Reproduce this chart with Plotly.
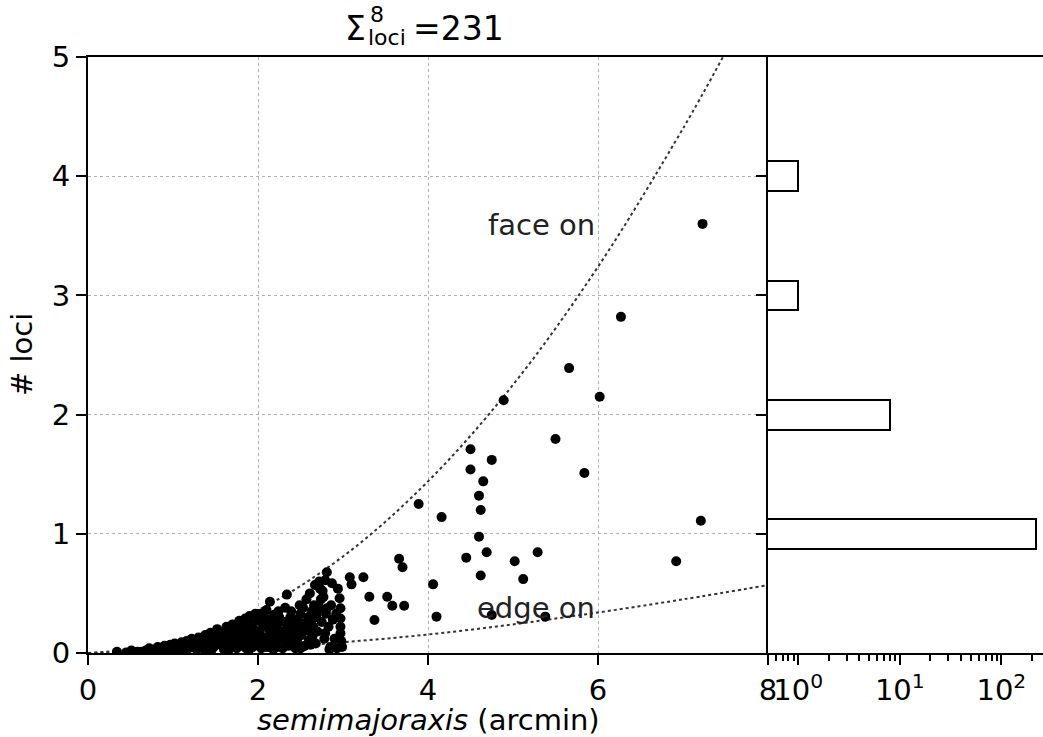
import plotly.graph_objects as go

# ---------------- data ----------------
# isolated / sparse galaxies
sparse_x = [7.23, 6.27, 5.66, 4.89, 6.02, 5.50, 5.84, 4.50, 4.75, 4.50, 4.65, 4.60, 4.62,
            3.89, 4.16, 7.21, 4.60, 4.69, 4.45, 5.29, 5.02, 6.92, 4.62, 5.12, 3.66, 3.70,
            4.06, 4.10, 4.75, 5.38, 3.08, 3.10, 3.24, 3.31, 3.52, 3.58, 3.72, 3.37]
sparse_y = [3.60, 2.82, 2.39, 2.12, 2.15, 1.795, 1.51, 1.71, 1.62, 1.54, 1.44, 1.32, 1.20,
            1.25, 1.14, 1.11, 0.976, 0.845, 0.80, 0.845, 0.77, 0.77, 0.65, 0.62, 0.79, 0.72,
            0.576, 0.305, 0.319, 0.305, 0.635, 0.576, 0.635, 0.472, 0.472, 0.397, 0.397, 0.277]

# dense cluster of small galaxies
dense_x = [0.34, 0.51, 0.45,
           0.68, 0.72, 0.77, 0.63,
           0.82, 0.86, 0.90, 0.93, 0.97, 0.95,
           1.02, 1.05, 1.08, 1.10, 1.13, 1.16, 1.18, 1.20,
           1.22, 1.25, 1.27, 1.30, 1.32, 1.35, 1.37, 1.38, 1.40,
           1.42, 1.44, 1.46, 1.48, 1.50, 1.52, 1.54, 1.56, 1.58, 1.60,
           1.62, 1.63, 1.65, 1.67, 1.69, 1.70, 1.72, 1.74, 1.76, 1.78, 1.79, 1.80,
           1.82, 1.84, 1.85, 1.87, 1.88, 1.90, 1.92, 1.93, 1.95, 1.97, 1.98, 2.00,
           2.02, 2.03, 2.05, 2.06, 2.08, 2.10, 2.11, 2.13, 2.14, 2.16, 2.17, 2.19, 2.20,
           2.22, 2.23, 2.25, 2.26, 2.28, 2.30, 2.32, 2.33, 2.34, 2.35, 2.37, 2.38, 2.40,
           2.42, 2.43, 2.45, 2.46, 2.48, 2.50, 2.51, 2.53, 2.54, 2.55, 2.57, 2.58, 2.59, 2.60,
           2.61, 2.62, 2.63, 2.64, 2.65, 2.65, 2.66, 2.67, 2.68, 2.70, 2.72, 2.73, 2.73, 2.75,
           2.77, 2.78, 2.79, 2.79, 2.80,
           2.81, 2.81, 2.83, 2.85, 2.87, 2.88, 2.90, 2.94, 2.96, 2.97, 2.97, 2.97, 2.97, 2.98, 2.99,
           1.12, 1.28, 1.43, 1.57, 1.66, 1.75, 1.86, 1.94, 2.04, 2.12, 2.21, 2.29, 2.36, 2.44,
           2.52, 2.56, 1.34, 1.47, 1.61, 1.71, 1.83, 1.91, 2.07, 2.15, 2.24, 2.31, 2.39, 2.47,
           2.49, 2.62, 1.24, 1.53, 1.77, 1.99, 2.09, 2.27, 2.41, 2.69, 2.74, 2.86, 2.92, 2.76,
           1.03, 0.88, 0.79, 0.58, 1.15, 1.45, 1.64, 1.89, 2.18, 2.50, 2.84, 2.93]
dense_y = [0.01, 0.02, 0.005,
           0.02, 0.04, 0.03, 0.01,
           0.05, 0.02, 0.06, 0.04, 0.07, 0.01,
           0.08, 0.05, 0.03, 0.09, 0.06, 0.10, 0.04, 0.07,
           0.12, 0.09, 0.05, 0.13, 0.08, 0.11, 0.03, 0.15, 0.07,
           0.12, 0.17, 0.09, 0.05, 0.14, 0.20, 0.11, 0.07, 0.17, 0.03,
           0.13, 0.22, 0.09, 0.18, 0.05, 0.24, 0.14, 0.20, 0.10, 0.27, 0.16, 0.06,
           0.22, 0.12, 0.29, 0.18, 0.08, 0.31, 0.25, 0.14, 0.20, 0.33, 0.10, 0.27,
           0.18, 0.33, 0.08, 0.23, 0.13, 0.36, 0.28, 0.20, 0.43, 0.10, 0.25, 0.32, 0.15,
           0.22, 0.05, 0.30, 0.12, 0.18, 0.26, 0.38, 0.09, 0.49, 0.21, 0.14, 0.30, 0.24,
           0.17, 0.06, 0.28, 0.11, 0.22, 0.33, 0.15, 0.38, 0.25, 0.06, 0.45, 0.19, 0.30, 0.11,
           0.50, 0.23, 0.35, 0.14, 0.29, 0.22, 0.40, 0.57, 0.08, 0.18, 0.60, 0.54, 0.375, 0.26,
           0.47, 0.12, 0.165, 0.61, 0.33,
           0.677, 0.375, 0.22, 0.05, 0.585, 0.28, 0.12, 0.54, 0.46, 0.375, 0.29, 0.22, 0.165, 0.10, 0.05,
           0.02, 0.03, 0.04, 0.12, 0.03, 0.04, 0.04, 0.05, 0.04, 0.05, 0.06, 0.04, 0.06, 0.04,
           0.05, 0.20, 0.06, 0.13, 0.07, 0.12, 0.16, 0.22, 0.30, 0.16, 0.35, 0.16, 0.35, 0.27,
           0.40, 0.07, 0.10, 0.09, 0.21, 0.14, 0.05, 0.27, 0.08, 0.32, 0.45, 0.40, 0.33, 0.52,
           0.02, 0.04, 0.015, 0.01, 0.02, 0.02, 0.02, 0.02, 0.03, 0.04, 0.03, 0.04]

loci_levels = [1, 2, 3, 4]
loci_counts = [221, 8, 1, 1]

# reference curves
face_on_x = [0, 1, 2, 3, 4, 5, 6, 7, 7.47]
face_on_y = [0, 0.09, 0.36, 0.81, 1.44, 2.25, 3.24, 4.40, 5.0]
edge_on_x = [0, 1, 2, 3, 4, 5, 6, 7, 8]
edge_on_y = [0, 0.01, 0.04, 0.09, 0.155, 0.24, 0.34, 0.45, 0.57]

x_ticks = [0, 2, 4, 6, 8]
y_ticks = [0, 1, 2, 3, 4, 5]
hist_tickvals = [1, 10, 100]
hist_ticktext = ["10<sup>0</sup>", "10<sup>1</sup>", "10<sup>2</sup>"]
hist_minor = [0.6, 0.7, 0.8, 0.9, 2, 3, 4, 5, 6, 7, 8, 9, 20, 30, 40, 50, 60, 70, 80, 90, 200]

# ---------------- figure ----------------
W, H = 1043, 737
FONT = "DejaVu Sans"
TICK = 29


def fx(px):
    return px / W


def fy(py):
    return 1 - py / H


fig = go.Figure()

fig.add_trace(go.Scatter(x=face_on_x, y=face_on_y, mode="lines", line_shape="spline",
                         line=dict(color="#333333", width=2, dash="dot"),
                         xaxis="x", yaxis="y", showlegend=False, hoverinfo="skip"))
fig.add_trace(go.Scatter(x=edge_on_x, y=edge_on_y, mode="lines", line_shape="spline",
                         line=dict(color="#333333", width=2, dash="dot"),
                         xaxis="x", yaxis="y", showlegend=False, hoverinfo="skip"))
fig.add_trace(go.Scatter(x=sparse_x + dense_x, y=sparse_y + dense_y, mode="markers",
                         marker=dict(color="black", size=10, line=dict(width=0)),
                         xaxis="x", yaxis="y", showlegend=False, cliponaxis=True))

fig.add_trace(go.Bar(y=loci_levels, x=loci_counts, orientation="h", width=0.25,
                     marker=dict(color="white", line=dict(color="black", width=2)),
                     xaxis="x2", yaxis="y2", showlegend=False))

x0, x1 = fx(88), fx(768)
y0, y1 = fy(653), fy(57)

axis_common = dict(linecolor="black", linewidth=2, ticks="outside",
                   ticklen=10, tickwidth=2, tickcolor="black", zeroline=False,
                   automargin=False,
                   tickfont=dict(family=FONT, size=TICK, color="black"))

fig.update_layout(
    width=W, height=H, margin=dict(l=0, r=0, t=0, b=0, pad=0, autoexpand=False),
    paper_bgcolor="white", plot_bgcolor="white",
    font=dict(family=FONT, color="black"),
    bargap=0,
    xaxis=dict(domain=[x0, x1], range=[0, 8], tickvals=x_ticks, mirror=True, showline=True,
               showgrid=True, gridcolor="#b0b0b0", gridwidth=1, griddash="dot",
               anchor="y", **axis_common),
    yaxis=dict(domain=[y0, y1], range=[0, 5], tickvals=y_ticks, mirror=False, showline=True,
               showgrid=True, gridcolor="#b0b0b0", gridwidth=1, griddash="dot",
               anchor="x", **axis_common),
    xaxis2=dict(domain=[x1, 1.0], type="log", range=[-0.298, 2.41], tickvals=hist_tickvals,
                ticktext=hist_ticktext, mirror=True, showline=True, showgrid=False, anchor="y2",
                minor=dict(tickvals=hist_minor, ticks="outside", ticklen=6, tickwidth=1.5,
                           tickcolor="black", showgrid=False),
                **axis_common),
    yaxis2=dict(domain=[y0, y1], range=[0, 5], tickvals=loci_levels, showticklabels=False,
                showline=True, showgrid=False, anchor="x2", mirror=False, **axis_common),
)

ann = []
# in-plot labels
ann.append(dict(x=5.33, y=3.59, xref="x", yref="y", text="face on", showarrow=False,
                font=dict(family=FONT, size=TICK, color="#222222"), xanchor="center", yanchor="middle"))
ann.append(dict(x=5.27, y=0.38, xref="x", yref="y", text="edge on", showarrow=False,
                font=dict(family=FONT, size=TICK, color="#222222"), xanchor="center", yanchor="middle"))
# axis titles
ann.append(dict(x=fx(428), y=fy(720), xref="paper", yref="paper",
                text="<i>semimajoraxis</i> (arcmin)", showarrow=False,
                font=dict(family=FONT, size=TICK, color="black"), xanchor="center", yanchor="middle"))
ann.append(dict(x=fx(22), y=fy(355), xref="paper", yref="paper", text="# loci", textangle=-90,
                showarrow=False, font=dict(family=FONT, size=TICK, color="black"),
                xanchor="center", yanchor="middle"))
# title  Σ^8_loci = 231
TS = 33
ann.append(dict(x=fx(368), y=fy(28), xref="paper", yref="paper", text="Σ", showarrow=False,
                font=dict(family=FONT, size=TS, color="black"), xanchor="right", yanchor="middle"))
ann.append(dict(x=fx(368), y=fy(14), xref="paper", yref="paper", text="8", showarrow=False,
                font=dict(family=FONT, size=22, color="black"), xanchor="left", yanchor="middle"))
ann.append(dict(x=fx(366), y=fy(38), xref="paper", yref="paper", text="loci", showarrow=False,
                font=dict(family=FONT, size=22, color="black"), xanchor="left", yanchor="middle"))
ann.append(dict(x=fx(411), y=fy(28), xref="paper", yref="paper", text="=231", showarrow=False,
                font=dict(family=FONT, size=TS, color="black"), xanchor="left", yanchor="middle"))
fig.update_layout(annotations=ann)

fig.write_html("out.html")
